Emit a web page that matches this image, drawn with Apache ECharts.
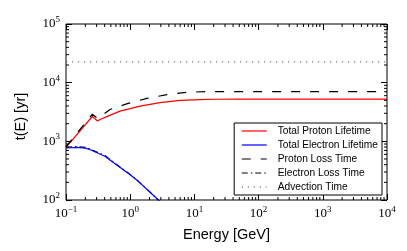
<!DOCTYPE html>
<html><head><meta charset="utf-8">
<script src="https://cdn.jsdelivr.net/npm/echarts@6/dist/echarts.min.js"></script>
<style>html,body{margin:0;padding:0;background:#fff}#c{width:407px;height:251px}</style>
</head><body><div id="c"></div>
<script>
// Axis ranges
const xMin = 0.1, xMax = 1e4, yMin = 100, yMax = 1e5;
// Tick labels (exponents of 10)
const xTickExponents = [-1, 0, 1, 2, 3, 4];
const yTickExponents = [2, 3, 4, 5];
const minorMultipliers = [2, 3, 4, 5, 6, 7, 8, 9];
const xDecades = [0.1, 1, 10, 100, 1000];
const yDecades = [100, 1000, 10000];

// Series: [energy GeV, time yr]
const protonLifetime = [[0.1, 790], [0.257, 2650], [0.311, 2220], [0.339, 2350], [0.45, 2690], [0.693, 3270], [1.0, 3610], [1.42, 3980], [2.91, 4560], [5.97, 4990], [12.2, 5150], [21, 5220], [50, 5250], [200, 5260], [10000, 5260]];
const electronLifetime = [[0.1, 770], [0.148, 790], [0.2, 765], [0.239, 720], [0.41, 553], [0.52, 454], [1.0, 269], [1.26, 220], [2.0, 138], [2.74, 100], [4.0, 65]];
const protonLossTime = [[0.1, 815], [0.257, 2900], [0.311, 2460], [0.339, 2620], [0.484, 3490], [0.925, 4430], [1.83, 5400], [3.74, 6250], [7.67, 6850], [15.7, 7030], [50, 7050], [10000, 7050]];
const electronLossTime = [[0.1, 795], [0.148, 817], [0.2, 790], [0.239, 743], [0.41, 567], [0.52, 463], [1.0, 272], [1.26, 222], [2.0, 139], [2.74, 100], [4.0, 65]];
const advectionTime = [[0.1, 22600], [10000, 22600]];
const seriesNames = ['Total Proton Lifetime', 'Total Electron Lifetime', 'Proton Loss Time', 'Electron Loss Time', 'Advection Time'];

const xMinor = [];
xDecades.forEach(d => minorMultipliers.forEach(m => xMinor.push([d * m, yMin])));
const yMinor = [];
yDecades.forEach(d => minorMultipliers.forEach(m => yMinor.push([xMin, d * m])));

function powLabel(v) {
  const e = Math.round(Math.log10(v));
  return '{b|10}{s|' + (e < 0 ? '\u2212' + (-e) : e) + '}';
}
const labelRich = {
  b: { fontFamily: 'Liberation Serif', fontSize: 13, color: '#000' },
  s: { fontFamily: 'Liberation Serif', fontSize: 9, color: '#000', padding: [0, 0, 9, 0] }
};
const majorTick = { show: true, inside: true, length: 6, lineStyle: { color: '#000', width: 1 } };

const chart = echarts.init(document.getElementById('c'), null, { renderer: 'canvas' });
const lineBase = { type: 'line', symbol: 'none', showSymbol: false, animation: false, clip: true };

chart.setOption({
  animation: false,
  backgroundColor: '#fff',
  grid: { left: 66, right: 20, top: 24, bottom: 51, show: true, borderColor: '#000', borderWidth: 1, backgroundColor: 'transparent' },
  xAxis: [
    { type: 'log', logBase: 10, min: xMin, max: xMax, splitNumber: 5, position: 'bottom',
      axisLine: { show: false }, axisTick: majorTick, splitLine: { show: false },
      axisLabel: { margin: 5, formatter: powLabel, rich: labelRich, showMinLabel: true, showMaxLabel: true },
      name: 'Energy [GeV]', nameLocation: 'middle', nameGap: 27,
      nameTextStyle: { fontFamily: 'Liberation Sans', fontSize: 14.5, color: '#000' } },
    { type: 'log', logBase: 10, min: xMin, max: xMax, splitNumber: 5, position: 'top',
      axisLine: { show: false }, axisTick: majorTick, splitLine: { show: false }, axisLabel: { show: false } }
  ],
  yAxis: [
    { type: 'log', logBase: 10, min: yMin, max: yMax, splitNumber: 3, position: 'left',
      axisLine: { show: false }, axisTick: majorTick, splitLine: { show: false },
      axisLabel: { margin: 6, formatter: powLabel, rich: labelRich, showMinLabel: true, showMaxLabel: true },
      name: 't(E) [yr]', nameLocation: 'middle', nameGap: 38, nameRotate: 90,
      nameTextStyle: { fontFamily: 'Liberation Sans', fontSize: 14.5, color: '#000', padding: [0, 9, 0, 0] } },
    { type: 'log', logBase: 10, min: yMin, max: yMax, splitNumber: 3, position: 'right',
      axisLine: { show: false }, axisTick: majorTick, splitLine: { show: false }, axisLabel: { show: false } }
  ],
  legend: {
    data: seriesNames, orient: 'vertical', right: 25, top: 123, align: 'left',
    backgroundColor: '#fff', borderColor: '#000', borderWidth: 1, borderRadius: 0,
    padding: [3, 4, 3, 7], itemWidth: 25, itemHeight: 12, itemGap: 4, selectedMode: false,
    itemStyle: { opacity: 0 },
    lineStyle: { width: 1.2 },
    textStyle: { fontFamily: 'Liberation Sans', fontSize: 10.2, color: '#000', padding: [0, 0, 0, 6] }
  },
  series: [
    Object.assign({}, lineBase, { name: seriesNames[0], data: protonLifetime, z: 3, lineStyle: { color: '#ff0000', width: 1.2 }, itemStyle: { color: '#ff0000' } }),
    Object.assign({}, lineBase, { name: seriesNames[1], data: electronLifetime, z: 3, lineStyle: { color: '#0000ff', width: 1.2 }, itemStyle: { color: '#0000ff' } }),
    Object.assign({}, lineBase, { name: seriesNames[2], data: protonLossTime, z: 4, lineStyle: { color: '#000', width: 1.2, type: [9, 10] }, itemStyle: { color: '#000' } }),
    Object.assign({}, lineBase, { name: seriesNames[3], data: electronLossTime, z: 2, lineStyle: { color: '#000', width: 1.1, type: [6, 3, 1.5, 3] }, itemStyle: { color: '#000' } }),
    Object.assign({}, lineBase, { name: seriesNames[4], data: advectionTime, z: 2, lineStyle: { color: '#555', width: 1, type: [1.2, 4.8] }, itemStyle: { color: '#888' } }),
    { type: 'custom', silent: true, animation: false, data: xMinor, z: 5,
      renderItem: function (params, api) {
        const v = api.value(0);
        const pb = api.coord([v, yMin]);
        const pt = api.coord([v, yMax]);
        return { type: 'group', children: [
          { type: 'line', shape: { x1: pb[0], y1: pb[1], x2: pb[0], y2: pb[1] - 3 }, style: { stroke: '#000', lineWidth: 1 } },
          { type: 'line', shape: { x1: pt[0], y1: pt[1], x2: pt[0], y2: pt[1] + 3 }, style: { stroke: '#000', lineWidth: 1 } }
        ] };
      } },
    { type: 'custom', silent: true, animation: false, data: yMinor, z: 5,
      renderItem: function (params, api) {
        const v = api.value(1);
        const pl = api.coord([xMin, v]);
        const pr = api.coord([xMax, v]);
        return { type: 'group', children: [
          { type: 'line', shape: { x1: pl[0], y1: pl[1], x2: pl[0] + 3, y2: pl[1] }, style: { stroke: '#000', lineWidth: 1 } },
          { type: 'line', shape: { x1: pr[0], y1: pr[1], x2: pr[0] - 3, y2: pr[1] }, style: { stroke: '#000', lineWidth: 1 } }
        ] };
      } }
  ]
});
</script>
</body></html>
